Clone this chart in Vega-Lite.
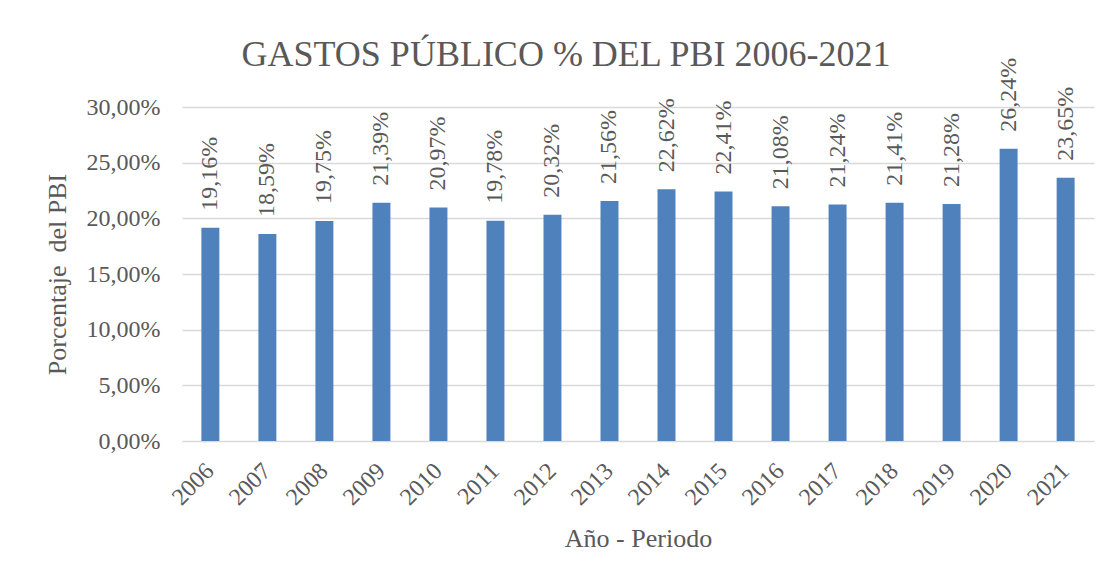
{
  "$schema": "https://vega.github.io/schema/vega-lite/v6.json",
  "width": 912,
  "height": 334,
  "autosize": {"type": "none"},
  "padding": {"left": 182, "top": 107, "right": 26, "bottom": 145},
  "background": "white",
  "config": {
    "locale": {"number": {"decimal": ",", "thousands": ".", "grouping": [3], "currency": ["", " €"]}},
    "font": "Liberation Serif",
    "view": {"stroke": null},
    "axis": {"labelFont": "Liberation Serif", "titleFont": "Liberation Serif", "labelColor": "#595959", "titleColor": "#595959", "titleFontWeight": "normal"}
  },
  "title": {
    "text": "GASTOS PÚBLICO % DEL PBI 2006-2021",
    "font": "Liberation Serif",
    "fontSize": 36,
    "fontWeight": "normal",
    "color": "#595959",
    "anchor": "middle",
    "dx": -72,
    "dy": 36,
    "offset": 20
  },
  "data": {
    "values": [
      {"year": "2006", "v": 0.1916},
      {"year": "2007", "v": 0.1859},
      {"year": "2008", "v": 0.1975},
      {"year": "2009", "v": 0.2139},
      {"year": "2010", "v": 0.2097},
      {"year": "2011", "v": 0.1978},
      {"year": "2012", "v": 0.2032},
      {"year": "2013", "v": 0.2156},
      {"year": "2014", "v": 0.2262},
      {"year": "2015", "v": 0.2241},
      {"year": "2016", "v": 0.2108},
      {"year": "2017", "v": 0.2124},
      {"year": "2018", "v": 0.2141},
      {"year": "2019", "v": 0.2128},
      {"year": "2020", "v": 0.2624},
      {"year": "2021", "v": 0.2365}
    ]
  },
  "encoding": {
    "x": {
      "field": "year", "type": "ordinal",
      "scale": {"paddingInner": 0.685, "paddingOuter": 0.34},
      "axis": {
        "title": "Año - Periodo", "titleFontSize": 26, "titlePadding": 16,
        "labelAngle": -45, "labelAlign": "right", "labelBaseline": "middle",
        "labelFontSize": 24, "labelPadding": 26,
        "ticks": false, "domain": false
      }
    },
    "y": {
      "field": "v", "type": "quantitative",
      "scale": {"domain": [0, 0.3]},
      "axis": {
        "title": "Porcentaje\u00a0 del PBI", "titleFontSize": 26, "titlePadding": 16,
        "values": [0, 0.05, 0.1, 0.15, 0.2, 0.25, 0.3],
        "format": ".2%", "labelFontSize": 24, "labelPadding": 22,
        "ticks": false, "domain": false,
        "gridColor": "#d9d9d9", "gridWidth": 1.5
      }
    }
  },
  "layer": [
    {"mark": {"type": "bar", "color": "#4f81bd"}},
    {
      "mark": {"type": "text", "angle": 270, "align": "left", "baseline": "middle", "dx": 17, "fontSize": 24, "color": "#595959", "font": "Liberation Serif"},
      "encoding": {"text": {"field": "v", "type": "quantitative", "format": ".2%"}}
    }
  ]
}
